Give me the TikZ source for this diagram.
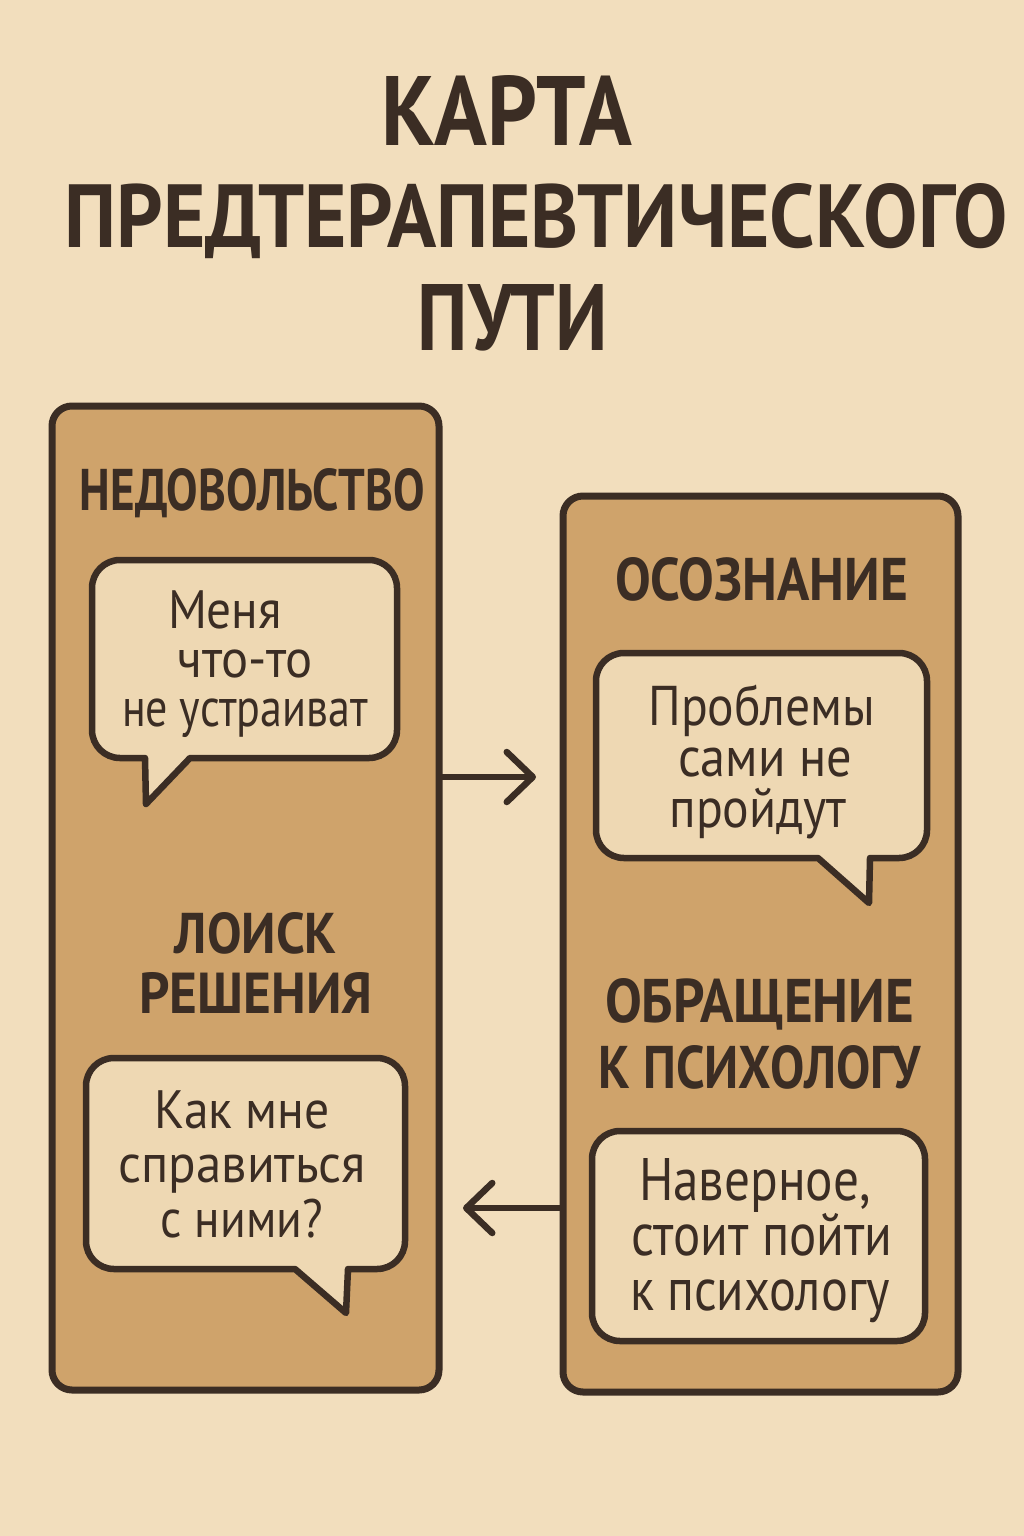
\documentclass[tikz,border=0pt]{standalone}
\usepackage{fontspec}
\usepackage{graphicx}
\setmainfont{PT Sans}
\usetikzlibrary{arrows.meta}
\definecolor{bg}{HTML}{F2DEBD}
\definecolor{panelc}{HTML}{CFA36B}
\definecolor{bubc}{HTML}{EED8B3}
\definecolor{ink}{HTML}{3B2D24}
\newcommand\fitw[2]{\resizebox{#1pt}{\height}{#2}}
\newcommand\fitwh[3]{\resizebox{#1pt}{#2pt}{#3}}
\tikzset{
  panel/.style={draw=ink, fill=panelc, line width=7pt, rounded corners=20pt, inner sep=0pt},
  bubble/.style={draw=ink, fill=bubc, line width=6.5pt, line join=round},
  heading/.style={text=ink, inner sep=0pt, anchor=north, align=center,
    font={\bfseries\fontsize{40}{#1}\selectfont\lineskiplimit=-100pt}},
  saying/.style 2 args={text=ink, inner sep=0pt, anchor=north, align=center,
    font={\fontsize{#1}{#2}\selectfont\lineskiplimit=-100pt}},
  arr/.style={draw=ink, line width=6.5pt, line cap=round, line join=round,
    -{Straight Barb[length=26pt, width=50pt, line cap=round, line join=round]}}
}
\begin{document}
\begin{tikzpicture}[x=1pt, y=-1pt]
\fill[bg] (0,0) rectangle (1024,1536);
\useasboundingbox (0,0) rectangle (1024,1536);

% title
\node[heading=102.5] (title) at (536.5,75)
  {\fitwh{250}{70}{КАРТА}\hspace*{59pt}\\
   \fitwh{943}{64}{ПРЕДТЕРАПЕВТИЧЕСКОГО}\\
   \fitwh{190}{66}{ПУТИ}\hspace*{47pt}};

% panels
\node[panel, minimum width=387pt, minimum height=984pt] (L) at (245.5,898) {};
\node[panel, minimum width=395pt, minimum height=896pt] (R) at (760.5,944) {};

% headings
\node[heading=60] (h1) at (252.5,468) {\fitwh{345}{42}{НЕДОВОЛЬСТВО}};
\node[heading=60] (h2) at (761.5,557) {\fitwh{293}{43}{ОСОЗНАНИЕ}};
\node[heading=60] (h3) at (256,912) {\fitwh{162}{41}{ЛОИСК}\\ \fitwh{233}{41}{РЕШЕНИЯ}};
\node[heading=66] (h4) at (759.5,978) {\fitwh{309}{44}{ОБРАЩЕНИЕ}\\ \fitwh{322}{43}{К ПСИХОЛОГУ}};

% bubble 1
\draw[bubble] (190,758) -- (369,758) .. controls (384.5,758) and (397,745.5) .. (397,730)
  -- (397,588) .. controls (397,572.5) and (384.5,560) .. (369,560)
  -- (120,560) .. controls (104.5,560) and (92,572.5) .. (92,588)
  -- (92,730) .. controls (92,745.5) and (104.5,758) .. (120,758)
  -- (145,758) -- (146,804) -- cycle;
\node[saying={54}{49}] (t1) at (245,590)
  {\fitw{114}{Меня}\hspace*{40pt}\\ \fitw{135}{что-то}\\ \fitw{246}{не устраиват}};

% bubble 2
\draw[bubble] (870,858) -- (899,858) .. controls (914.5,858) and (927,845.5) .. (927,830)
  -- (927,681) .. controls (927,665.5) and (914.5,653) .. (899,653)
  -- (624,653) .. controls (608.5,653) and (596,665.5) .. (596,681)
  -- (596,830) .. controls (596,845.5) and (608.5,858) .. (624,858)
  -- (818,858) -- (869,903) -- cycle;
\node[saying={56}{51}] (t2) at (762,685)
  {\fitw{227}{Проблемы}\\ \hspace*{6pt}\fitw{174}{сами не}\\ \fitw{177}{пройдут}\hspace*{8pt}};

% bubble 3
\draw[bubble] (348,1269) -- (377,1269) .. controls (392.5,1269) and (405,1256.5) .. (405,1241)
  -- (405,1086) .. controls (405,1070.5) and (392.5,1058) .. (377,1058)
  -- (114,1058) .. controls (98.5,1058) and (86,1070.5) .. (86,1086)
  -- (86,1241) .. controls (86,1256.5) and (98.5,1269) .. (114,1269)
  -- (295,1269) -- (346,1313) -- cycle;
\node[saying={54}{54.5}] (t3) at (242,1090)
  {\fitw{176}{Как мне}\\ \fitw{247}{справиться}\\ \fitw{162}{с ними?}};

% bubble 4
\draw[bubble, rounded corners=28pt] (592,1131) rectangle (925,1341);
\node[saying={60}{55}] (t4) at (760,1158)
  {\fitw{232}{Наверное,}\hspace*{10pt}\\ \hspace*{4pt}\fitw{261}{стоит пойти}\\ \fitw{260}{к психологу}};

% connectors
\coordinate (tipA) at (536,777);
\coordinate (tipB) at (463,1208);
\draw[arr] (L.east |- tipA) -- (tipA);
\draw[arr] (R.west |- tipB) -- (tipB);
\end{tikzpicture}
\end{document}
